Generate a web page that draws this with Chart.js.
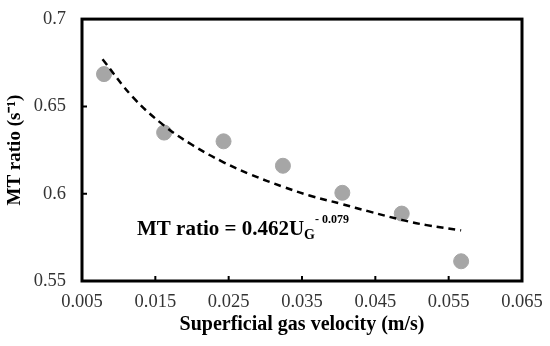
<!DOCTYPE html>
<html>
<head>
<meta charset="utf-8">
<script src="https://cdn.jsdelivr.net/npm/chart.js@4/dist/chart.umd.min.js"></script>
<style>
  html, body { margin: 0; padding: 0; background: #fff; }
  #wrap { width: 550px; height: 346px; }
</style>
</head>
<body>
<div id="wrap"><canvas id="chart"></canvas></div>
<script>
// measured points
const velocity = [0.008, 0.0162, 0.0243, 0.0324, 0.0405, 0.0486, 0.0567];
const mtRatio = [0.6685, 0.635, 0.630, 0.616, 0.6005, 0.5886, 0.5613];

// power-law trend line
const trendX = [0.0078, 0.012, 0.0162, 0.020, 0.0243, 0.028, 0.0324, 0.036, 0.0405, 0.044, 0.0486, 0.052, 0.0567];
const trendY = [0.677, 0.655, 0.639, 0.628, 0.618, 0.611, 0.604, 0.599, 0.594, 0.590, 0.585, 0.582, 0.579];

const xTicks = [0.005, 0.015, 0.025, 0.035, 0.045, 0.055, 0.065];
const yTicks = [0.55, 0.6, 0.65, 0.7];

const serif = "'Liberation Serif', 'Times New Roman', serif";

// frame + inner tick marks + equation label
const framePlugin = {
  id: 'frame',
  afterDraw(chart) {
    const ctx = chart.ctx;
    const a = chart.chartArea;
    const xs = chart.scales.x, ys = chart.scales.y;
    ctx.save();
    ctx.strokeStyle = '#000';
    ctx.lineWidth = 3;
    ctx.strokeRect(a.left, a.top, a.right - a.left, a.bottom - a.top);
    ctx.lineWidth = 2;
    ctx.beginPath();
    xTicks.forEach(v => {
      const px = xs.getPixelForValue(v);
      ctx.moveTo(px, a.bottom);
      ctx.lineTo(px, a.bottom - 5);
    });
    yTicks.forEach(v => {
      const py = ys.getPixelForValue(v);
      ctx.moveTo(a.left, py);
      ctx.lineTo(a.left + 5, py);
    });
    ctx.stroke();

    // equation
    let x = 137, y = 235;
    ctx.fillStyle = '#000';
    ctx.textBaseline = 'alphabetic';
    ctx.font = 'bold 21px ' + serif;
    const main = 'MT ratio = 0.462U';
    ctx.fillText(main, x, y);
    x += ctx.measureText(main).width;
    ctx.font = 'bold 14px ' + serif;
    ctx.fillText('G', x, y + 4);
    x += ctx.measureText('G').width;
    ctx.font = 'bold 12px ' + serif;
    ctx.fillText('- 0.079', x, y - 12);
    ctx.restore();
  }
};

new Chart(document.getElementById('chart'), {
  type: 'scatter',
  data: {
    datasets: [
      {
        label: 'MT ratio',
        data: velocity.map((v, i) => ({ x: v, y: mtRatio[i] })),
        backgroundColor: '#A6A6A6',
        borderColor: '#A6A6A6',
        pointRadius: 7.5,
        order: 2
      },
      {
        label: 'Power fit',
        type: 'line',
        data: trendX.map((v, i) => ({ x: v, y: trendY[i] })),
        borderColor: '#000',
        borderWidth: 2.5,
        borderDash: [7, 5],
        pointRadius: 0,
        tension: 0.4,
        fill: false,
        order: 1
      }
    ]
  },
  options: {
    responsive: true,
    maintainAspectRatio: false,
    animation: false,
    layout: { padding: { top: 16, right: 28, left: 0, bottom: 0 } },
    plugins: {
      legend: { display: false },
      tooltip: { enabled: false }
    },
    scales: {
      x: {
        type: 'linear',
        min: 0.005,
        max: 0.065,
        afterBuildTicks: s => { s.ticks = xTicks.map(v => ({ value: v })); },
        afterFit: s => { s.height = 65; },
        grid: { display: false },
        border: { display: false },
        ticks: {
          color: '#333',
          font: { family: serif, size: 18.5 },
          padding: 2,
          maxRotation: 0,
          callback: v => v.toFixed(3)
        },
        title: {
          display: true,
          text: 'Superficial gas velocity (m/s)',
          color: '#000',
          font: { family: serif, size: 20, weight: 'bold' },
          padding: { top: 0, bottom: 9 }
        }
      },
      y: {
        min: 0.55,
        max: 0.7,
        afterBuildTicks: s => { s.ticks = yTicks.map(v => ({ value: v })); },
        afterFit: s => { s.width = 82; },
        grid: { display: false },
        border: { display: false },
        ticks: {
          color: '#333',
          font: { family: serif, size: 18.5 },
          padding: 8,
          callback: v => String(+v.toFixed(2))
        },
        title: {
          display: true,
          text: 'MT ratio (s\u207B\u00B9)',
          color: '#000',
          font: { family: serif, size: 19, weight: 'bold' },
          padding: { bottom: 0 }
        }
      }
    }
  },
  plugins: [framePlugin]
});
</script>
</body>
</html>
